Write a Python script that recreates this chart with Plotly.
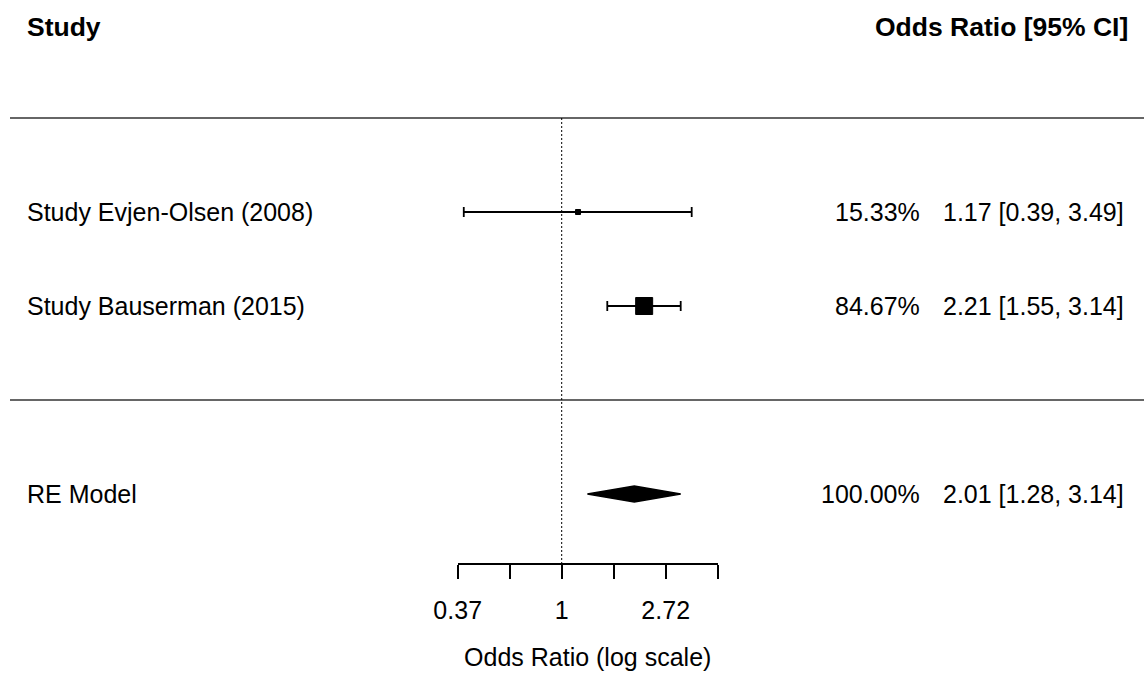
import numpy as np
import plotly.graph_objects as go

# ---- data ----
studies = ["Study Evjen-Olsen (2008)", "Study Bauserman (2015)"]
or_est = [1.17, 2.21]
or_lo = [0.39, 1.55]
or_hi = [3.49, 3.14]
weights = [15.33, 84.67]

model_label = "RE Model"
model_est = 2.01
model_lo = 1.28
model_hi = 3.14
model_weight = 100.00

tick_vals_log = [-1, 0, 1]
tick_labels = ["0.37", "1", "2.72"]
minor_tick_vals_log = [-0.5, 0.5, 1.5]

header_left = "Study"
header_right = "Odds Ratio [95% CI]"
x_title = "Odds Ratio (log scale)"

# ---- layout helpers ----
W, H = 1144, 677
FONT = "Liberation Sans, Arial, sans-serif"
FS = 25
FS_HEAD = 26.5

k = len(studies)
rows = list(range(k, 0, -1))          # study rows
model_row = -1
header_row = k + 2
line_rows = [k + 1, 0]

# pixel mapping: y_px = 400 - 94*row
y_top = 400 / 94
y_bot = -(H - 400) / 94
axis_row = (400 - 564.3) / 94

le = np.log(or_est)
ll = np.log(or_lo)
lh = np.log(or_hi)

fig = go.Figure()

# CI lines with caps
fig.add_trace(go.Scatter(
    x=le, y=rows, mode="markers",
    marker=dict(symbol="square", size=[5, 17], color="black", opacity=1,
                line=dict(width=1, color="black")),
    error_x=dict(type="data", symmetric=False, array=lh - le, arrayminus=le - ll,
                 color="black", thickness=1.8, width=5),
    showlegend=False, hoverinfo="skip",
))

# summary diamond
me, mlo, mhi = np.log(model_est), np.log(model_lo), np.log(model_hi)
hh = 8 / 94
fig.add_trace(go.Scatter(
    x=[mlo, me, mhi, me, mlo],
    y=[model_row, model_row + hh, model_row, model_row - hh, model_row],
    mode="lines", fill="toself", fillcolor="black",
    line=dict(color="black", width=1.5),
    showlegend=False, hoverinfo="skip",
))

shapes = []
for r in line_rows:
    shapes.append(dict(type="line", xref="paper", yref="y", x0=10 / W, x1=1, y0=r, y1=r,
                       line=dict(color="#333333", width=1.5)))
shapes.append(dict(type="line", xref="x", yref="y", x0=0, x1=0, y0=k + 1, y1=axis_row,
                   line=dict(color="black", width=1, dash="2px,2px")))

ann = []
def txt(x_px, y, text, anchor="left", bold=False, size=FS):
    ann.append(dict(xref="paper", yref="y", x=x_px / W, y=y, text=f"<b>{text}</b>" if bold else text,
                    showarrow=False, xanchor=anchor, yanchor="middle",
                    font=dict(family=FONT, size=size, color="black")))

txt(25, header_row - 0.03, header_left, bold=True, size=FS_HEAD)
txt(1130, header_row - 0.03, header_right, anchor="right", bold=True, size=FS_HEAD)
for i, s in enumerate(studies):
    txt(25, rows[i], s)
    txt(922, rows[i], f"{weights[i]:.2f}%", anchor="right")
    txt(1126, rows[i], f"{or_est[i]:.2f} [{or_lo[i]:.2f}, {or_hi[i]:.2f}]", anchor="right")
txt(25, model_row, model_label)
txt(922, model_row, f"{model_weight:.2f}%", anchor="right")
txt(1126, model_row, f"{model_est:.2f} [{model_lo:.2f}, {model_hi:.2f}]", anchor="right")

fig.update_layout(
    width=W, height=H, margin=dict(l=0, r=0, t=0, b=0),
    paper_bgcolor="white", plot_bgcolor="white",
    font=dict(family=FONT, size=FS, color="black"),
    shapes=shapes, annotations=ann,
    xaxis=dict(
        domain=[457.7 / W, 717.7 / W], range=[-1, 1.5],
        anchor="free", position=(H - 564.3) / H,
        showline=True, linecolor="black", linewidth=1.5,
        ticks="outside", ticklen=14, tickwidth=1.5, tickcolor="black",
        tickvals=tick_vals_log, ticktext=tick_labels,
        ticklabelstandoff=10,
        minor=dict(tickvals=minor_tick_vals_log, ticks="outside", ticklen=14,
                   tickwidth=1.5, tickcolor="black", showgrid=False),
        showgrid=False, zeroline=False, automargin=False,
        tickfont=dict(family=FONT, size=FS, color="black"),
        title=dict(text=x_title, font=dict(family=FONT, size=FS, color="black"), standoff=24),
    ),
    yaxis=dict(range=[y_bot, y_top], visible=False, domain=[0, 1]),
)

fig.write_html("out.html")
